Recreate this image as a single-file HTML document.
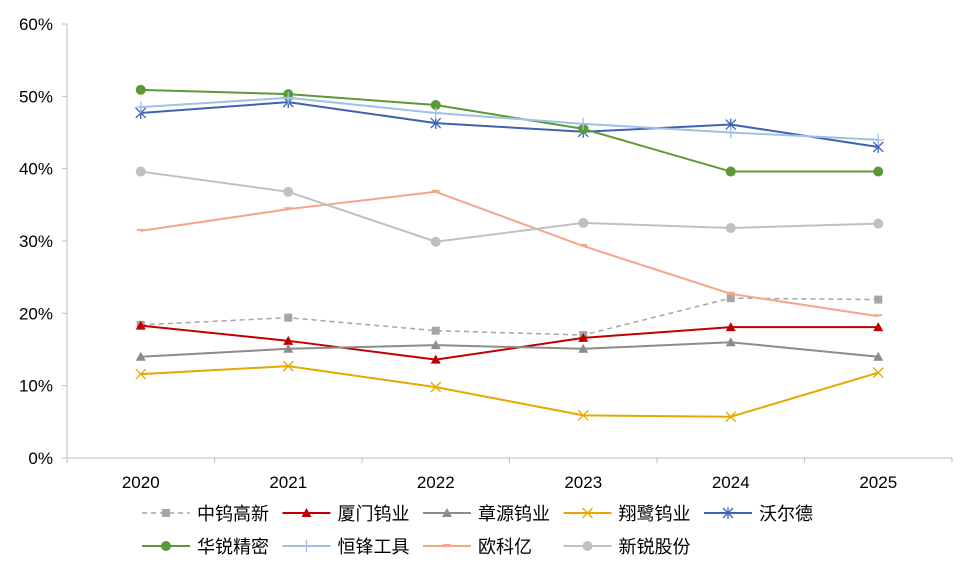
<!DOCTYPE html>
<html><head><meta charset="utf-8"><style>
body{margin:0;background:#fff;}
svg text{font-family:"Liberation Sans","Noto Sans CJK SC",sans-serif;}
</style></head><body>
<svg id="chart" width="965" height="563" xmlns="http://www.w3.org/2000/svg"></svg>
<script>
const categories=["2020","2021","2022","2023","2024","2025"];
const yTicks=[0,10,20,30,40,50,60];
const names=["中钨高新","厦门钨业","章源钨业","翔鹭钨业","沃尔德","华锐精密","恒锋工具","欧科亿","新锐股份"];
const sZW=[18.4,19.4,17.6,17.0,22.1,21.9];
const sXM=[18.3,16.2,13.6,16.6,18.1,18.1];
const sZY=[14.0,15.1,15.6,15.1,16.0,14.0];
const sXL=[11.6,12.7,9.8,5.9,5.7,11.8];
const sWED=[47.7,49.2,46.3,45.1,46.1,43.0];
const sHR=[50.9,50.3,48.8,45.5,39.6,39.6];
const sHF=[48.5,49.8,47.7,46.2,45.0,44.0];
const sOKY=[31.4,34.4,36.8,29.3,22.7,19.6];
const sXR=[39.6,36.8,29.9,32.5,31.8,32.4];
const seriesData=[sZW,sXM,sZY,sXL,sWED,sHR,sHF,sOKY,sXR];
const styles=[
 {c:"#a5a5a5",m:"square",dash:"5,4",w:1.5},
 {c:"#c00000",m:"tri",w:2},
 {c:"#8c8c8c",m:"tri",w:2},
 {c:"#e6a800",m:"x",w:2},
 {c:"#3d63b0",m:"star",w:2},
 {c:"#5a9a36",m:"circle",w:2},
 {c:"#9fc1e8",m:"plus",w:2},
 {c:"#f4a58a",m:"dash",w:2},
 {c:"#c0c0c0",m:"circle",w:2}
];
const svg=document.getElementById('chart');
const NS="http://www.w3.org/2000/svg";
const L=67,R=952,T=24,B=458;
const bw=(R-L)/categories.length;
const xS=i=>L+bw*(i+0.5);
const yS=v=>B-(v/60)*(B-T);
function el(tag,a,p){const e=document.createElementNS(NS,tag);for(const k in a)e.setAttribute(k,a[k]);(p||svg).appendChild(e);return e;}
// axes
const ax=el('line',{x1:L,y1:T,x2:L,y2:B,stroke:"#bfbfbf","stroke-width":1});


const bx=el('line',{x1:L,y1:B,x2:R,y2:B,stroke:"#bfbfbf","stroke-width":1});


yTicks.forEach(v=>{
 el('line',{x1:L-5,y1:yS(v),x2:L,y2:yS(v),stroke:"#bfbfbf"});
 const t=el('text',{x:L-14,y:yS(v)+6,"text-anchor":"end","font-size":17,fill:"#000"});
 t.textContent=v+"%";
 
 
});
for(let i=0;i<=categories.length;i++){el('line',{x1:L+bw*i,y1:B,x2:L+bw*i,y2:B+5,stroke:"#bfbfbf"});}
categories.forEach((c,i)=>{
 const t=el('text',{x:xS(i),y:B+30,"text-anchor":"middle","font-size":17,fill:"#000"});
 t.textContent=c;
 
 
});
function marker(g,m,x,y,c){
 if(m==="square")el('rect',{x:x-4,y:y-4,width:8,height:8,fill:c},g);
 else if(m==="tri")el('polygon',{points:`${x},${y-5} ${x-5},${y+4} ${x+5},${y+4}`,fill:c},g);
 else if(m==="circle")el('circle',{cx:x,cy:y,r:5,fill:c},g);
 else if(m==="x"){el('line',{x1:x-5,y1:y-5,x2:x+5,y2:y+5,stroke:c,"stroke-width":1.3},g);el('line',{x1:x-5,y1:y+5,x2:x+5,y2:y-5,stroke:c,"stroke-width":1.3},g);}
 else if(m==="star"){el('line',{x1:x-5,y1:y-5,x2:x+5,y2:y+5,stroke:c,"stroke-width":1.3},g);el('line',{x1:x-5,y1:y+5,x2:x+5,y2:y-5,stroke:c,"stroke-width":1.3},g);el('line',{x1:x,y1:y-6,x2:x,y2:y+6,stroke:c,"stroke-width":1.3},g);}
 else if(m==="plus"){el('line',{x1:x-6,y1:y,x2:x+6,y2:y,stroke:c,"stroke-width":1.3},g);el('line',{x1:x,y1:y-6,x2:x,y2:y+6,stroke:c,"stroke-width":1.3},g);}
 else if(m==="dash"){el('line',{x1:x-4,y1:y-1,x2:x+4,y2:y-1,stroke:c,"stroke-width":2},g);}
}
seriesData.forEach((d,si)=>{
 const s=styles[si];
 const g=el('g',{});
 
 
 const pts=d.map((v,i)=>xS(i)+","+yS(v)).join(" ");
 const a={points:pts,fill:"none",stroke:s.c,"stroke-width":s.w};
 if(s.dash)a["stroke-dasharray"]=s.dash;
 el('polyline',a,g);
 d.forEach((v,i)=>marker(g,s.m,xS(i),yS(v),s.c));
});
// legend
names.forEach((n,i)=>{
 const row=i<5?0:1,col=i<5?i:i-5;
 const x0=142+col*140.5,y0=row?546:513;
 const s=styles[i];
 const g=el('g',{});
 
 
 const a={x1:x0,y1:y0,x2:x0+48,y2:y0,stroke:s.c,"stroke-width":s.w};
 if(s.dash)a["stroke-dasharray"]=s.dash;
 el('line',a,g);
 marker(g,s.m,x0+24,y0,s.c);
 const t=el('text',{x:x0+55,y:y0+7,"font-size":18,fill:"#000"},g);
 t.textContent=n;
});
</script>
</body></html>
